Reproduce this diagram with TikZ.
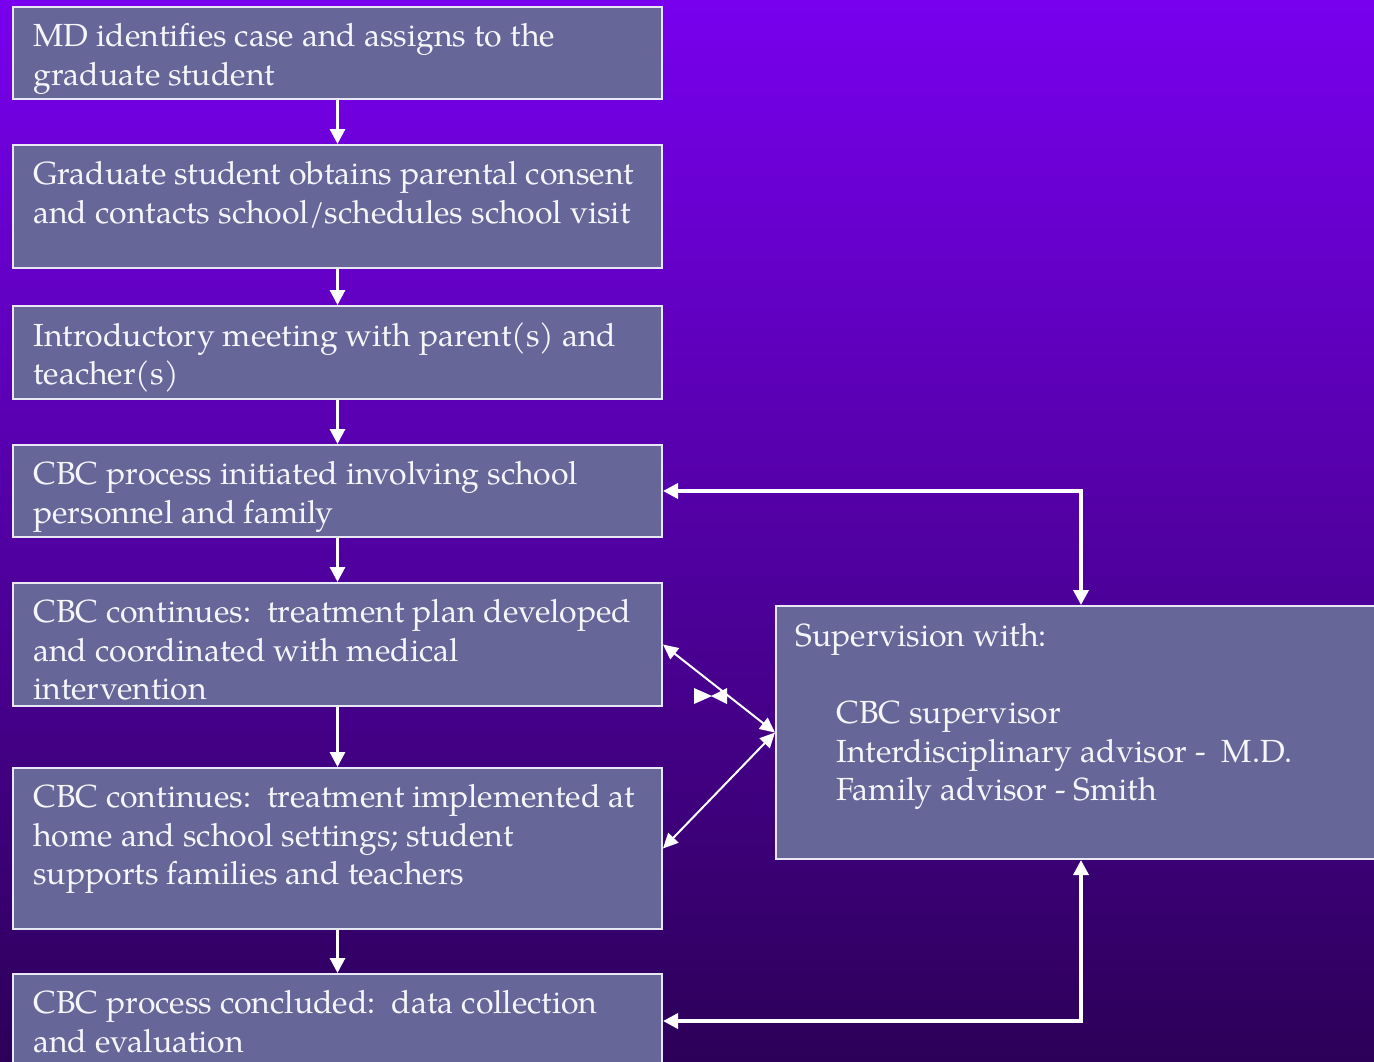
\documentclass[tikz,border=0pt]{standalone}
\usepackage{fontspec}
\setmainfont{TeX Gyre Pagella}
\usepackage{tikz}
\usetikzlibrary{arrows.meta}
\definecolor{bgtop}{RGB}{120,0,238}
\definecolor{bgbot}{RGB}{44,0,88}
\definecolor{boxfill}{RGB}{102,102,153}
\definecolor{boxline}{RGB}{232,232,244}
\definecolor{txtc}{RGB}{246,246,250}
\tikzset{every picture/.style={line width=0.75pt}}
\tikzset{
  stepbox/.style={draw=boxline, fill=boxfill, line width=2pt, rectangle, anchor=north west, inner sep=0pt},
  steptext/.style={anchor=north west, inner sep=0pt, align=left, text=txtc, font=\fontsize{32}{38.5}\selectfont},
  flow/.style={draw=white, line width=3pt, -{Triangle[length=15pt,width=15pt]}},
  twoway/.style={draw=white, line width=3.5pt, {Triangle[length=15pt,width=15pt]}-{Triangle[length=15pt,width=15pt]}},
  thinway/.style={draw=white, line width=2pt, {Triangle[length=15pt,width=14pt]}-{Triangle[length=15pt,width=14pt]}}
}

\begin{document}
\begin{tikzpicture}[x=1pt,y=1pt,yscale=-1,xscale=1]
\useasboundingbox (0,0) rectangle (1374,1061);
%Background
\shade [top color=bgtop, bottom color=bgbot] (0,0) rectangle (1374,1061);

%Shape: Rectangle
\node [stepbox, minimum width=649pt, minimum height=92pt] (md) at (12,6) {};
%Shape: Rectangle
\node [stepbox, minimum width=649pt, minimum height=123pt] (consent) at (12,144) {};
%Shape: Rectangle
\node [stepbox, minimum width=649pt, minimum height=93pt] (intro) at (12,305) {};
%Shape: Rectangle
\node [stepbox, minimum width=649pt, minimum height=92pt] (cbc) at (12,444) {};
%Shape: Rectangle
\node [stepbox, minimum width=649pt, minimum height=123pt] (plan) at (12,582) {};
%Shape: Rectangle
\node [stepbox, minimum width=649pt, minimum height=161pt] (impl) at (12,767) {};
%Shape: Rectangle
\node [stepbox, minimum width=649pt, minimum height=94pt] (concl) at (12,973) {};
%Shape: Rectangle
\node [stepbox, minimum width=610pt, minimum height=253pt] (sup) at (775,605) {};

%Straight Lines
\draw [flow] (md.south) -- (consent.north);
\draw [flow] (consent.south) -- (intro.north);
\draw [flow] (intro.south) -- (cbc.north);
\draw [flow] (cbc.south) -- (plan.north);
\draw [flow] (plan.south) -- (impl.north);
\draw [flow] (impl.south) -- (concl.north);
%Elbow Lines
\draw [twoway] (cbc.east) -| (sup.north);
\draw [twoway] (sup.south) |- (concl.east);
%Straight Lines
\draw [thinway] (plan.east) -- (sup.west);
\draw [thinway] (impl.east) -- (sup.west);
%Shape: Triangles
\fill [white] (694,688) -- (712,696) -- (694,704) -- cycle;
\fill [white] (727,688) -- (711,696) -- (727,704) -- cycle;

% Text Node
\node [steptext] (mdtxt) at ([shift={(21,17)}]md.north west) {MD identifies case and assigns to the\\graduate student};
% Text Node
\node [steptext] (consenttxt) at ([shift={(21,17)}]consent.north west) {Graduate student obtains parental consent\\and contacts school/schedules school visit};
% Text Node
\node [steptext] (introtxt) at ([shift={(21,17)}]intro.north west) {Introductory meeting with parent(s) and\\teacher(s)};
% Text Node
\node [steptext] (cbctxt) at ([shift={(21,17)}]cbc.north west) {CBC process initiated involving school\\personnel and family};
% Text Node
\node [steptext] (plantxt) at ([shift={(21,17)}]plan.north west) {CBC continues:\ \ treatment plan developed\\and coordinated with medical\\intervention};
% Text Node
\node [steptext] (impltxt) at ([shift={(21,17)}]impl.north west) {CBC continues:\ \ treatment implemented at\\home and school settings; student\\supports families and teachers};
% Text Node
\node [steptext] (concltxt) at ([shift={(21,17)}]concl.north west) {CBC process concluded:\ \ data collection\\and evaluation};
% Text Node
\node [steptext] (suptxt) at ([shift={(20,18)}]sup.north west) {Supervision with:\\[38.5pt]\hspace*{41pt}CBC supervisor\\\hspace*{41pt}Interdisciplinary advisor -\ \ M.D.\\\hspace*{41pt}Family advisor - Smith};

\end{tikzpicture}
\end{document}
